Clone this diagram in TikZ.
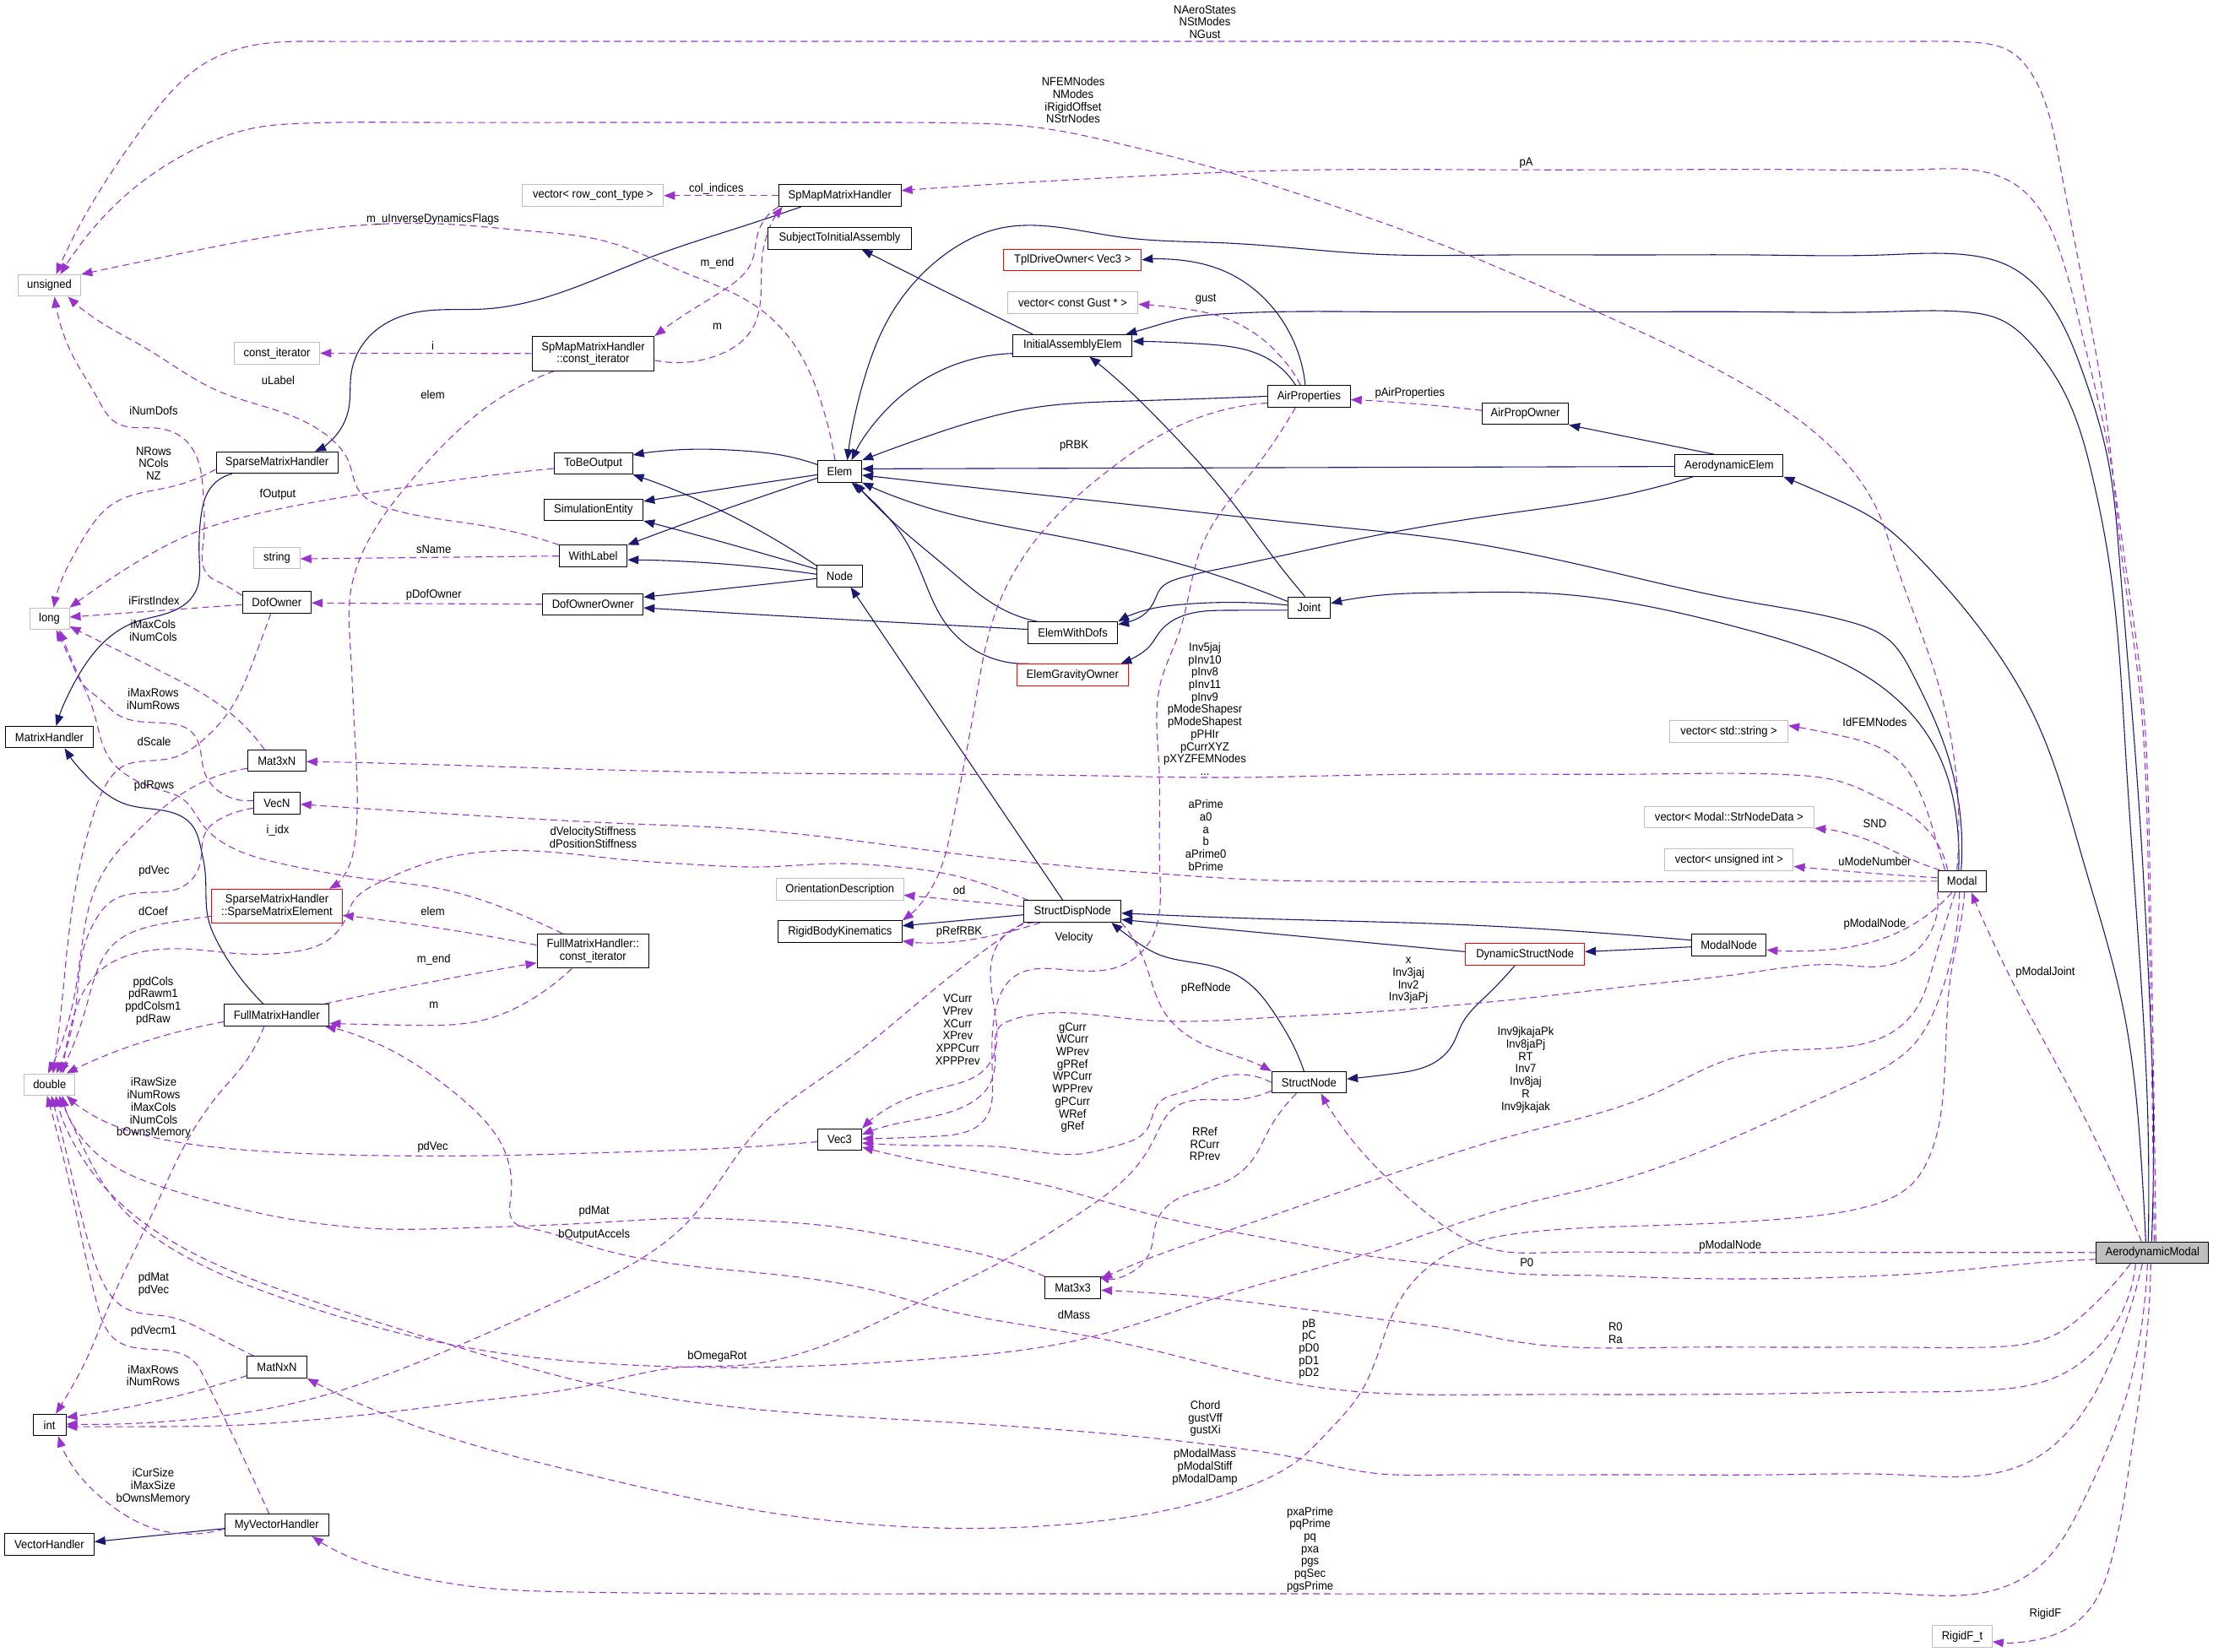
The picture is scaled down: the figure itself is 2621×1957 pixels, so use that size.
\documentclass[tikz,border=0pt]{standalone}
\usepackage{fontspec}
\setmainfont{Liberation Sans}[FakeStretch=0.93]
\usetikzlibrary{arrows.meta,hobby}
\definecolor{navyc}{HTML}{191970}
\definecolor{purpc}{HTML}{9A32CD}
\definecolor{grayc}{HTML}{BFBFBF}
\newcommand\doxfont{\fontsize{14}{14.7}\selectfont}
\pgfdeclarelayer{edgelayer}
\pgfsetlayers{edgelayer,main}
\tikzset{
  box/.style={draw=black, line width=1pt, fill=white, minimum height=25.5pt, inner xsep=2pt, inner ysep=1pt, font=\doxfont, align=center},
  gbox/.style={box, draw=grayc},
  rbox/.style={box, draw=red},
  lab/.style={font=\doxfont, align=center, inner sep=0pt},
  inh/.style={draw=navyc, line width=1.1pt, -{Triangle[length=13pt,width=10pt]}},
  use/.style={draw=purpc, line width=1.1pt, dash pattern=on 8pt off 5pt, -{Triangle[length=13pt,width=10pt]}},
}
\begin{document}
\begin{tikzpicture}[x=1pt,y=-1pt]
\useasboundingbox (0,0) rectangle (2621,1957);
% ---------- class nodes ----------
\node[gbox, minimum width=74.6] (uns) at (58.5,338.2) {unsigned};
\node[gbox, minimum width=167] (vrct) at (702.3,231.7) {vector< row\_cont\_type >};
\node[gbox, minimum width=101.6] (citer) at (328,418.4) {const\_iterator};
\node[box, minimum width=144.7, minimum height=40.4] (spci) at (702.5,418.8) {SpMapMatrixHandler\\::const\_iterator};
\node[box, minimum width=144] (smh) at (328,548) {SparseMatrixHandler};
\node[box, minimum width=93] (tbo) at (702.6,549) {ToBeOutput};
\node[box, minimum width=117.7] (se) at (702.9,603.8) {SimulationEntity};
\node[box, minimum width=80.3] (wl) at (702.6,658.7) {WithLabel};
\node[gbox, minimum width=54.5] (str) at (328,661) {string};
\node[box, minimum width=81.5] (dof) at (327.8,713.3) {DofOwner};
\node[box, minimum width=118.8] (doo) at (702.3,715.8) {DofOwnerOwner};
\node[gbox, minimum width=47] (long) at (58.5,733) {long};
\node[box, minimum width=103.3] (mh) at (58.5,873.2) {MatrixHandler};
\node[box, minimum width=68.9] (m3n) at (327.8,901.2) {Mat3xN};
\node[box, minimum width=54.5] (vecn) at (328,951.7) {VecN};
\node[rbox, minimum width=154.4, minimum height=40] (sme) at (328,1073.3) {SparseMatrixHandler\\::SparseMatrixElement};
\node[box, minimum width=132.6, minimum height=40.4] (fmci) at (702.3,1126.6) {FullMatrixHandler::\\const\_iterator};
\node[box, minimum width=124] (fmh) at (327.8,1202.4) {FullMatrixHandler};
\node[gbox, minimum width=60.3] (dbl) at (58.8,1284.8) {double};
\node[box, minimum width=70.6] (mnn) at (328,1619.7) {MatNxN};
\node[box, minimum width=39] (int) at (58.5,1688) {int};
\node[box, minimum width=123] (mvh) at (327.8,1806.7) {MyVectorHandler};
\node[box, minimum width=105.6] (vh) at (58.5,1829.4) {VectorHandler};
\node[box, minimum width=144.6] (spm) at (994.8,231.7) {SpMapMatrixHandler};
\node[box, minimum width=170.5] (stia) at (994.5,282.3) {SubjectToInitialAssembly};
\node[rbox, minimum width=163] (tdo) at (1270.3,307.8) {TplDriveOwner< Vec3 >};
\node[gbox, minimum width=154.4] (vgust) at (1270.6,358.4) {vector< const Gust * >};
\node[box, minimum width=141.2] (iae) at (1270.3,409.3) {InitialAssemblyElem};
\node[box, minimum width=97.6] (airp) at (1550.4,469.4) {AirProperties};
\node[box, minimum width=52.2] (elem) at (994.5,558.4) {Elem};
\node[box, minimum width=53.4] (node) at (994.5,682.3) {Node};
\node[box, minimum width=50.5] (joint) at (1550.4,719.8) {Joint};
\node[box, minimum width=106.2] (ewd) at (1270.6,749.5) {ElemWithDofs};
\node[rbox, minimum width=132] (ego) at (1270.3,799.4) {ElemGravityOwner};
\node[gbox, minimum width=150.4] (od) at (994.8,1053.4) {OrientationDescription};
\node[box, minimum width=114.8] (sdn) at (1270.3,1079.7) {StructDispNode};
\node[box, minimum width=147] (rbk) at (994.8,1103.7) {RigidBodyKinematics};
\node[box, minimum width=88.4] (sn) at (1550.4,1282.2) {StructNode};
\node[box, minimum width=52.2] (vec3) at (994.5,1350) {Vec3};
\node[box, minimum width=66] (m33) at (1270.6,1525.3) {Mat3x3};
\node[box, minimum width=102.2] (apo) at (1806.5,490.2) {AirPropOwner};
\node[box, minimum width=128] (aee) at (2047.9,551.6) {AerodynamicElem};
\node[gbox, minimum width=140] (vss) at (2047.6,866.5) {vector< std::string >};
\node[gbox, minimum width=201.5] (vsnd) at (2047.9,967.9) {vector< Modal::StrNodeData >};
\node[gbox, minimum width=152.1] (vui) at (2047.9,1018.4) {vector< unsigned int >};
\node[box, minimum width=57.4] (modal) at (2323.7,1043.9) {Modal};
\node[box, minimum width=88.4] (mnode) at (2047.6,1119.7) {ModalNode};
\node[rbox, minimum width=140.6] (dsn) at (1806.2,1130.4) {DynamicStructNode};
\node[box, fill=grayc, minimum width=133.2] (am) at (2549.3,1483.8) {AerodynamicModal};
\node[gbox, minimum width=70.6] (rft) at (2324,1938.7) {RigidF\_t};
% ---------- edge labels ----------
\node[lab] (l01) at (1427,26) {NAeroStates\\NStModes\\NGust};
\node[lab] (l02) at (1271,118.7) {NFEMNodes\\NModes\\iRigidOffset\\NStrNodes};
\node[lab] (l03) at (1807.5,193) {pA};
\node[lab] (l04) at (848.4,224) {col\_indices};
\node[lab] (l05) at (512.6,259.7) {m\_uInverseDynamicsFlags};
\node[lab] (l06) at (849.5,312.3) {m\_end};
\node[lab] (l07) at (849.5,386.4) {m};
\node[lab] (l08) at (1428.2,354.7) {gust};
\node[lab] (l09) at (512.6,409.5) {i};
\node[lab] (l10) at (329.5,450.4) {uLabel};
\node[lab] (l11) at (1669.8,466.2) {pAirProperties};
\node[lab] (l12) at (512.6,467.2) {elem};
\node[lab] (l13) at (182,486.2) {iNumDofs};
\node[lab] (l14) at (1272,528.5) {pRBK};
\node[lab] (l15) at (182,548.9) {NRows\\NCols\\NZ};
\node[lab] (l16) at (329,586.3) {fOutput};
\node[lab] (l17) at (513.7,650.4) {sName};
\node[lab] (l18) at (513.7,704.4) {pDofOwner};
\node[lab] (l19) at (182.5,711.6) {iFirstIndex};
\node[lab] (l20) at (181.5,746.8) {iMaxCols\\iNumCols};
\node[lab] (l21) at (1427,839.9) {Inv5jaj\\pInv10\\pInv8\\pInv11\\pInv9\\pModeShapesr\\pModeShapest\\pPHIr\\pCurrXYZ\\pXYZFEMNodes\\...};
\node[lab] (l22) at (181.5,828) {iMaxRows\\iNumRows};
\node[lab] (l23) at (2220.4,855.5) {IdFEMNodes};
\node[lab] (l24) at (182.5,878.7) {dScale};
\node[lab] (l25) at (182.5,931.3) {pdRows};
\node[lab] (l26) at (1428.2,989.4) {aPrime\\a0\\a\\b\\aPrime0\\bPrime};
\node[lab] (l27) at (2220.4,975.5) {SND};
\node[lab] (l28) at (329,983.5) {i\_idx};
\node[lab] (l29) at (702.6,991.9) {dVelocityStiffness\\dPositionStiffness};
\node[lab] (l30) at (2220.4,1020.5) {uModeNumber};
\node[lab] (l31) at (182.5,1032.3) {pdVec};
\node[lab] (l32) at (1136,1054.9) {od};
\node[lab] (l33) at (181.4,1079.4) {dCoef};
\node[lab] (l34) at (512.6,1079.4) {elem};
\node[lab] (l35) at (2220.4,1094.6) {pModalNode};
\node[lab] (l36) at (1136,1104.1) {pRefRBK};
\node[lab] (l37) at (1272,1111.3) {Velocity};
\node[lab] (l38) at (513.7,1136.7) {m\_end};
\node[lab] (l39) at (1668.1,1161.5) {x\\Inv3jaj\\Inv2\\Inv3jaPj};
\node[lab] (l40) at (2422.4,1152.3) {pModalJoint};
\node[lab] (l41) at (1428.2,1171) {pRefNode};
\node[lab] (l42) at (181.4,1185.5) {ppdCols\\pdRawm1\\ppdColsm1\\pdRaw};
\node[lab] (l43) at (513.7,1191) {m};
\node[lab] (l44) at (1134.3,1219.8) {VCurr\\VPrev\\XCurr\\XPrev\\XPPCurr\\XPPPrev};
\node[lab] (l45) at (1270.3,1276.5) {gCurr\\WCurr\\WPrev\\gPRef\\WPCurr\\WPPrev\\gPCurr\\WRef\\gRef};
\node[lab] (l46) at (1807,1267.3) {Inv9jkajaPk\\Inv8jaPj\\RT\\Inv7\\Inv8jaj\\R\\Inv9jkajak};
\node[lab] (l47) at (182,1312.7) {iRawSize\\iNumRows\\iMaxCols\\iNumCols\\bOwnsMemory};
\node[lab] (l48) at (1427,1355.2) {RRef\\RCurr\\RPrev};
\node[lab] (l49) at (512.6,1359.3) {pdVec};
\node[lab] (l50) at (703.7,1434.6) {pdMat};
\node[lab] (l51) at (703.7,1463.1) {bOutputAccels};
\node[lab] (l52) at (2049.3,1475.5) {pModalNode};
\node[lab] (l53) at (1808.2,1495.5) {P0};
\node[lab] (l54) at (182,1521.6) {pdMat\\pdVec};
\node[lab] (l55) at (1272,1557) {dMass};
\node[lab] (l56) at (1550.4,1598.2) {pB\\pC\\pD0\\pD1\\pD2};
\node[lab] (l57) at (1913.3,1579.5) {R0\\Ra};
\node[lab] (l58) at (182,1576.7) {pdVecm1};
\node[lab] (l59) at (849.5,1606.5) {bOmegaRot};
\node[lab] (l60) at (181.4,1629.5) {iMaxRows\\iNumRows};
\node[lab] (l61) at (1427.6,1680.6) {Chord\\gustVff\\gustXi};
\node[lab] (l62) at (1427,1738) {pModalMass\\pModalStiff\\pModalDamp};
\node[lab] (l63) at (181.4,1760.9) {iCurSize\\iMaxSize\\bOwnsMemory};
\node[lab] (l64) at (1551.6,1835.6) {pxaPrime\\pqPrime\\pq\\pxa\\pgs\\pqSec\\pgsPrime};
\node[lab] (l65) at (2422.4,1912.3) {RigidF};
\begin{pgfonlayer}{edgelayer}
% ---------- inheritance (solid) ----------
\draw[inh] ([xshift=-46]spm.south) to[curve through={(880,268) .. (775,303) .. (574,366) .. (488,371) .. (436,400) .. (416,442) .. (413,484) .. (396,518)}] ([xshift=45]smh.north);
\draw[inh] ([xshift=-53]smh.south) to[curve through={(248,580) .. (238,612) .. (236,660) .. (232,700) .. (207,723) .. (160,737) .. (127,757) .. (93,800)}] ([xshift=8]mh.north);
\draw[inh] ([xshift=-16]fmh.north) to[curve through={(275,1145) .. (257,1115) .. (247,1090) .. (243,1033) .. (238,1005) .. (227,977) .. (193,960) .. (150,953) .. (110,927)}] ([xshift=18]mh.south);
\draw[inh] ([yshift=-4]mvh.west) -- ([yshift=3]vh.east);
\draw[inh] ([yshift=8]elem.west) to[curve through={(930,540) .. (880,534) .. (800,533)}] ([yshift=10]tbo.east);
\draw[inh] ([yshift=-4]elem.west) to[curve through={(900,572.5)}] ([yshift=10]se.east);
\draw[inh] ([yshift=-8]elem.west) to[curve through={(900,589)}] (wl.north east);
\draw[inh] ([yshift=12]node.west) to[curve through={(880,618)}] (tbo.south east);
\draw[inh] ([yshift=8]node.west) to[curve through={(880,649)}] (se.south east);
\draw[inh] ([yshift=2]node.west) to[curve through={(880,670)}] ([yshift=-4.5]wl.east);
\draw[inh] ([yshift=-3]node.west) to[curve through={(880,695)}] ([yshift=8.5]doo.east);
\draw[inh] ([yshift=4]ewd.west) to[curve through={(880,727)}] ([yshift=-4.2]doo.east);
\draw[inh] ([xshift=-42]ewd.north) to[curve through={(1190,723) .. (1121,672) .. (1052,613)}] ([xshift=18]elem.south);
\draw[inh] ([yshift=7.4]joint.west) to[curve through={(1397,668) .. (1253,635) .. (1104,603)}] (elem.south east);
\draw[inh] ([xshift=-52]ego.north) to[curve through={(1121,740) .. (1092,681) .. (1069,635) .. (1041,601)}] ([xshift=14]elem.south);
\draw[inh] ([yshift=-9.4]iae.west) to[curve through={(1110,441) .. (1052,483)}] ([xshift=14]elem.north);
\draw[inh] ([xshift=-47]iae.north) to[curve through={(1121,346)}] ([xshift=26]stia.south);
\draw[inh] (airp.west) to[curve through={(1339,475) .. (1224,483) .. (1098,517)}] (elem.north east);
\draw[inh] ([xshift=-16]airp.north) to[curve through={(1500,424) .. (1425,407.5)}] ([yshift=5]iae.east);
\draw[inh] ([xshift=-4.5]airp.north) to[curve through={(1511,369) .. (1454,323) .. (1397,308)}] (tdo.east);
\draw[inh] ([xshift=-1]am.north) to[curve through={(2550,1300) .. (2546,1187) .. (2532,935) .. (2510,660) .. (2497,547) .. (2467,442) .. (2427,358) .. (2381,316) .. (2330,302) .. (2230,302) .. (2080,302) .. (1930,302) .. (1780,302) .. (1626,301) .. (1454,288) .. (1328,281) .. (1236,267.5) .. (1184,270.5) .. (1138,289) .. (1098,319) .. (1052,378) .. (1023.5,449)}] ([xshift=9]elem.north);
\draw[inh] ([xshift=-5]am.north) to[curve through={(2543,1300) .. (2535,1150) .. (2518,900) .. (2497,660) .. (2479,568) .. (2444,463) .. (2410,412.5) .. (2370,379) .. (2327,369.4) .. (2230,369.4) .. (2080,369.4) .. (1930,369.4) .. (1780,369.4) .. (1640,369.4) .. (1511,369.4) .. (1454,371.5) .. (1397,378) .. (1368,386)}] ([xshift=63]iae.north);
\draw[inh] ([xshift=-8]am.north) to[curve through={(2536,1375) .. (2530,1300) .. (2513,1187) .. (2467,1019) .. (2410,850) .. (2352,754) .. (2272,660) .. (2226,619) .. (2169,589)}] (aee.south east);
\draw[inh] ([xshift=-17]aee.north) -- (apo.south east);
\draw[inh] ([yshift=-1]aee.west) -- ([yshift=3]elem.east);
\draw[inh] ([xshift=-43]aee.south) to[curve through={(1910,589) .. (1780,609) .. (1626,635) .. (1454,672) .. (1397,685) .. (1374,698) .. (1368,710) .. (1356,727) .. (1339,736)}] ([yshift=10]ewd.east);
\draw[inh] ([yshift=3]joint.west) to[curve through={(1400,716) .. (1356,723)}] (ewd.north east);
\draw[inh] ([yshift=-3]joint.west) to[curve through={(1454,723) .. (1397,731) .. (1374,748) .. (1362,765) .. (1345,778)}] ([xshift=57]ego.north);
\draw[inh] ([xshift=-5]joint.north) to[curve through={(1511,664) .. (1454,588) .. (1379,504) .. (1328,454)}] ([xshift=20]iae.south);
\draw[inh] ([xshift=-1]modal.north) to[curve through={(2306,892) .. (2266,800) .. (2237,758) .. (2192,737) .. (2065,712) .. (1893,674) .. (1721,640) .. (1560,622) .. (1400,604.5) .. (1240,587)}] ([yshift=-4.5]elem.east);
\draw[inh] ([xshift=-4]modal.north) to[curve through={(2318,977) .. (2295,892) .. (2238,821) .. (2065,745) .. (1836,703) .. (1721,702) .. (1626,706)}] ([yshift=5]joint.east);
\draw[inh] ([yshift=6]mnode.west) to[curve through={(1893,1105) .. (1721,1095) .. (1590,1091) .. (1454,1087)}] ([yshift=-2]sdn.east);
\draw[inh] ([yshift=-2]mnode.west) -- ([yshift=3]dsn.east);
\draw[inh] ([yshift=3]dsn.west) -- ([yshift=-9.7]sdn.east);
\draw[inh] ([xshift=-12]dsn.south) to[curve through={(1760,1180) .. (1732,1212) .. (1720,1238) .. (1700,1258) .. (1650,1272)}] ([yshift=4]sn.east);
\draw[inh] ([xshift=-6]sn.north) to[curve through={(1530,1235) .. (1511,1203) .. (1485,1170) .. (1454,1150) .. (1400,1138) .. (1373,1131) .. (1345,1115)}] ([xshift=46]sdn.south);
\draw[inh] ([xshift=-11.5]sdn.north) -- ([xshift=13]node.south);
\draw[inh] ([yshift=-4]sdn.west) -- ([yshift=7]rbk.east);
% ---------- usage (dashed) ----------
\draw[use] ([xshift=2]am.north) to[curve through={(2549,1300) .. (2544,1019) .. (2533,808) .. (2513,660) .. (2496,505) .. (2467,337) .. (2438.5,189) .. (2421,118) .. (2404,84) .. (2381,61) .. (2335,50) .. (2270,49) .. (2150,49) .. (1900,49) .. (1500,49) .. (1100,49) .. (700,49) .. (500,49) .. (380,49) .. (310,52) .. (241,76) .. (172,147) .. (115,231) .. (80,295)}] ([xshift=8]uns.north);
\draw[use] ([xshift=-6]modal.north) to[curve through={(2295,808) .. (2243,660) .. (2226,610) .. (2169,530) .. (2065,455) .. (1893,370) .. (1721,295) .. (1592,248) .. (1452,203) .. (1325,170) .. (1220,150) .. (1150,146) .. (1050,145) .. (900,145) .. (700,145) .. (500,145) .. (400,145) .. (350,146.5) .. (310,150) .. (230,177) .. (143.5,236) .. (98,286)}] ([xshift=13]uns.north);
\draw[use] ([xshift=4]am.north) to[curve through={(2551,1300) .. (2546,1019) .. (2536,808) .. (2516,660) .. (2496,526) .. (2467,400) .. (2438.5,295) .. (2410,240) .. (2381,215) .. (2338,201.5) .. (2270,201) .. (2150,201) .. (1950,201) .. (1750,201) .. (1571,201) .. (1452,204) .. (1325,210) .. (1150,220)}] ([yshift=6]spm.east);
\draw[use] ([xshift=-5.5]elem.north) to[curve through={(972,475) .. (937,403) .. (900,366) .. (804,320) .. (718,286) .. (631,274) .. (517,265) .. (402,269) .. (287,286) .. (201,303)}] (uns.north east);
\draw[use] (wl.north west) to[curve through={(574,623) .. (459,602) .. (425,581) .. (413,547) .. (390,518) .. (344,492) .. (258,463) .. (172,412) .. (115,379)}] ([xshift=22]uns.south);
\draw[use] ([yshift=8]dof.west) to[curve through={(260,690) .. (247,682) .. (241,640) .. (241,589) .. (235,547) .. (218,520) .. (184,507) .. (138,501) .. (115,471) .. (86,421) .. (69,375)}] ([xshift=6]uns.south);
\draw[use] ([yshift=-8]smh.west) to[curve through={(201,577) .. (132,598) .. (103,631) .. (86,660) .. (70,695)}] ([xshift=5]long.north);
\draw[use] ([yshift=-6]tbo.west) to[curve through={(574,564) .. (430,585) .. (316,606) .. (230,631) .. (172,660) .. (110,700)}] (long.north east);
\draw[use] ([yshift=-3]dof.west) -- ([yshift=2]long.east);
\draw[use] ([xshift=-14.5]m3n.north) to[curve through={(267,840) .. (200,800) .. (133,767)}] ([yshift=-9]long.east);
\draw[use] ([yshift=3.4]vecn.west) to[curve through={(263,940) .. (243,917) .. (237,887) .. (227,867) .. (200,857) .. (167,855) .. (140,847) .. (117,827) .. (100,813) .. (87,790)}] ([xshift=8]long.south);
\draw[use] ([xshift=-36]fmci.north) to[curve through={(603,1078) .. (517,1052) .. (450,1043) .. (333,1023) .. (267,1000) .. (240,977) .. (217,947) .. (187,935) .. (153,920) .. (133,903) .. (120,877) .. (110,840) .. (93,800)}] ([xshift=12]long.south);
\draw[use] ([xshift=-7]dof.south) to[curve through={(300,783) .. (273,840) .. (240,877) .. (207,897) .. (167,902) .. (147,907) .. (127,927) .. (110,967) .. (93,1033) .. (80,1120) .. (72,1200)}] ([xshift=4]dbl.north);
\draw[use] ([yshift=-9]m3n.west) to[curve through={(233,930) .. (193,957) .. (160,987) .. (133,1017) .. (110,1060) .. (97,1120) .. (86,1190)}] ([xshift=-2]dbl.north);
\draw[use] ([yshift=-5.6]vecn.west) to[curve through={(267,967) .. (243,987) .. (237,1023) .. (217,1050) .. (180,1057) .. (150,1060) .. (133,1067) .. (113,1090) .. (100,1120) .. (90,1190)}] ([xshift=8]dbl.north);
\draw[use] ([yshift=-12]sme.west) to[curve through={(200,1093) .. (160,1103) .. (133,1120) .. (115,1150) .. (100,1200)}] ([xshift=12]dbl.north);
\draw[use] ([xshift=-52]sdn.north) to[curve through={(1201,1060) .. (1138,1039) .. (1052,1026) .. (995,1023) .. (900,1027) .. (820,1024) .. (746,1019) .. (631,1008) .. (517,1019) .. (448,1046) .. (417,1070) .. (410,1087) .. (383,1117) .. (344,1128) .. (287,1130) .. (218,1124) .. (166,1128) .. (115,1153) .. (86,1208)}] ([xshift=16]dbl.north);
\draw[use] ([yshift=-8]fmh.west) to[curve through={(172,1233.5) .. (115,1254.5)}] ([xshift=20]dbl.north);
\draw[use] ([xshift=-15]fmh.south) to[curve through={(287,1263) .. (264,1290) .. (218,1358) .. (184,1430) .. (149,1503) .. (126,1554) .. (103,1609) .. (80,1652)}] ([xshift=7.5]int.north);
\draw[use] ([yshift=-2.5]vec3.west) to[curve through={(880,1359) .. (730,1365) .. (574,1369) .. (459,1369) .. (287,1362) .. (172,1345) .. (115,1324)}] ([xshift=20]dbl.south);
\draw[use] (m33.north west) to[curve through={(1167,1487) .. (1100,1473) .. (995,1454) .. (880,1445) .. (832,1443) .. (730,1447) .. (631,1452) .. (540,1455) .. (459,1456) .. (316,1439) .. (201,1409) .. (115,1367)}] ([xshift=15]dbl.south);
\draw[use] (sdn.south west) to[curve through={(1110,1169) .. (995,1262) .. (900,1335) .. (815,1447) .. (689,1528) .. (517,1605) .. (373,1656) .. (230,1681)}] ([yshift=1]int.east);
\draw[use] ([yshift=-10]sn.west) to[curve through={(1457,1303) .. (1390,1313) .. (1368,1347) .. (1345,1383) .. (1279,1437) .. (1189,1493) .. (1100,1537) .. (1023,1574) .. (880,1617) .. (804,1620) .. (689,1643) .. (570,1659) .. (459,1673) .. (370,1682) .. (287,1688) .. (180,1690)}] ([yshift=-2]int.east);
\draw[use] ([xshift=-27]mnn.north) to[curve through={(247,1579) .. (201,1560) .. (149,1550) .. (115,1503) .. (86,1396)}] ([xshift=2]dbl.south);
\draw[use] ([xshift=-9]mvh.north) to[curve through={(241,1630) .. (230,1613) .. (218,1605) .. (172,1598) .. (138,1588) .. (115,1545) .. (86,1418)}] ([xshift=-3]dbl.south);
\draw[use] ([yshift=-4.3]mvh.west) to[curve through={(172,1807) .. (126,1779) .. (86,1737)}] ([xshift=10.5]int.south);
\draw[use] ([yshift=-10]mnn.west) to[curve through={(201,1656)}] ([yshift=9]int.east);
\draw[use] ([xshift=3]modal.south) to[curve through={(2321,1100) .. (2312,1145) .. (2301,1300) .. (2283,1375) .. (2266,1401) .. (2209,1430) .. (2123,1443) .. (1951,1452) .. (1807,1460) .. (1725,1480) .. (1658,1540) .. (1613,1647) .. (1569,1700) .. (1540,1728) .. (1483,1759) .. (1282,1804) .. (1110,1810) .. (900,1790) .. (689,1745) .. (517,1698)}] (mnn.south east);
\draw[use] ([xshift=-3]modal.south) to[curve through={(2295,1187) .. (2266,1238) .. (2220,1271) .. (2180,1290) .. (1893,1405) .. (1800,1427) .. (1636,1480) .. (1454,1533) .. (1279,1587) .. (1100,1610) .. (880,1620) .. (800,1619) .. (574,1600) .. (344,1541) .. (230,1494) .. (143,1430) .. (86,1333)}] ([xshift=11]dbl.south);
\draw[use] ([xshift=-12]am.south) to[curve through={(2505,1600) .. (2467,1673) .. (2410,1728) .. (2352,1747) .. (2250,1747) .. (2100,1747) .. (1950,1747) .. (1800,1747) .. (1721,1747) .. (1626,1745) .. (1540,1728) .. (1454,1714) .. (1339,1701) .. (1110,1684) .. (880,1668) .. (717,1643) .. (517,1588) .. (344,1532) .. (201,1469) .. (115,1396)}] ([xshift=7]dbl.south);
\draw[use] ([xshift=-6]am.south) to[curve through={(2535,1580) .. (2525,1630) .. (2467,1779) .. (2410,1860) .. (2341,1888) .. (2250,1888) .. (2100,1888) .. (1900,1888) .. (1700,1888) .. (1500,1888) .. (1300,1888) .. (1100,1888) .. (900,1888) .. (760,1887) .. (660,1885.5) .. (574,1881) .. (517,1873) .. (459,1860) .. (402,1839)}] ([xshift=42]mvh.south);
\draw[use] ([xshift=-2]am.south) to[curve through={(2542,1588) .. (2525,1715) .. (2502,1843) .. (2483,1894) .. (2461.5,1920) .. (2410,1943)}] ([yshift=-6]rft.east);
\draw[use] ([xshift=-20]am.south) to[curve through={(2490,1590) .. (2438,1630) .. (2352,1647) .. (2250,1649) .. (2100,1651) .. (1950,1652) .. (1800,1652) .. (1680,1652) .. (1591,1647) .. (1502,1633) .. (1368,1600) .. (1234,1573) .. (1100,1547) .. (1052,1533) .. (880,1506) .. (804,1498) .. (689,1473) .. (631,1456) .. (608,1447) .. (605,1418) .. (597,1362) .. (545,1300) .. (459,1242)}] ([xshift=57]fmh.south);
\draw[use] ([xshift=-26]am.south) to[curve through={(2470,1555) .. (2438,1579) .. (2352,1596) .. (2250,1596) .. (2120,1596) .. (1990,1596) .. (1864,1596) .. (1800,1590) .. (1721,1575) .. (1636,1563) .. (1457,1540) .. (1368,1532)}] ([yshift=-3]m33.east);
\draw[use] (am.west) to[curve through={(2400,1483.7) .. (2250,1483.7) .. (2100,1483.7) .. (1950,1483.7) .. (1840,1483.6) .. (1778,1482) .. (1740,1470) .. (1700,1445) .. (1658,1410) .. (1591,1337)}] ([xshift=14]sn.south);
\draw[use] ([yshift=-8]am.west) to[curve through={(2400,1497) .. (2295,1507) .. (2180,1513) .. (2065,1515) .. (1950,1513) .. (1893,1511) .. (1800,1509) .. (1720,1500) .. (1636,1490) .. (1502,1467) .. (1368,1440) .. (1234,1403) .. (1100,1377)}] ([yshift=-9]vec3.east);
\draw[use] ([xshift=-13]am.north) to[curve through={(2456,1299) .. (2381,1158)}] ([xshift=11]modal.south);
\draw[use] ([xshift=-12]modal.south) to[curve through={(2266,1095) .. (2209,1118) .. (2151.5,1126)}] ([yshift=-5.6]mnode.east);
\draw[use] (modal.south west) to[curve through={(2272,1124) .. (2238,1143) .. (2180,1143) .. (2060,1154) .. (1951,1166) .. (1830,1180) .. (1721,1191) .. (1620,1199) .. (1511,1205) .. (1350,1208) .. (1196,1209) .. (1184,1216) .. (1178.5,1241) .. (1173,1283) .. (1138,1312.5) .. (1052,1333.5)}] ([yshift=6]vec3.east);
\draw[use] ([xshift=-8]modal.south) to[curve through={(2289,1145) .. (2266,1200) .. (2065,1250) .. (1960,1295) .. (1800,1343) .. (1636,1395) .. (1457,1457) .. (1345,1497)}] ([yshift=-3]m33.north east);
\draw[use] ([xshift=-17]modal.north) to[curve through={(2266,968) .. (2238,952) .. (2180,926) .. (2123,918) .. (1950,917) .. (1780,917) .. (1620,918) .. (1454,921) .. (1300,919) .. (1100,917) .. (900,915.7) .. (650,910) .. (450,904)}] ([yshift=-1]m3n.east);
\draw[use] (modal.west) to[curve through={(2150,1044) .. (1960,1044.5) .. (1780,1045) .. (1640,1044) .. (1511,1043) .. (1374,1035) .. (1224,1022) .. (1052,1001) .. (880,982) .. (750,976) .. (631,970) .. (480,961)}] ([yshift=-1]vecn.east);
\draw[use] ([xshift=-20]modal.north) to[curve through={(2300,1019) .. (2272,935) .. (2249,901) .. (2180,871.5)}] ([yshift=7]vss.east);
\draw[use] ([xshift=-26]modal.north) to[curve through={(2266,1019) .. (2220,998)}] (vsnd.south east);
\draw[use] ([yshift=4]modal.west) to[curve through={(2238,1036)}] ([yshift=-8]vui.east);
\draw[use] ([xshift=-10]airp.north) to[curve through={(1511,416) .. (1454,378) .. (1397,365)}] ([yshift=-2]vgust.east);
\draw[use] ([yshift=4]apo.west) to[curve through={(1684,479)}] ([yshift=-4]airp.east);
\draw[use] ([yshift=-8]airp.west) to[curve through={(1397,504) .. (1310.5,559) .. (1224,643) .. (1178.5,727) .. (1155.5,830) .. (1127,980) .. (1110,1039)}] (rbk.north east);
\draw[use] ([xshift=-16]airp.south) to[curve through={(1483,559) .. (1425,643) .. (1397,748) .. (1374,811) .. (1372.5,904) .. (1373.6,1030) .. (1362,1115) .. (1328,1144) .. (1253,1148) .. (1201,1157) .. (1178.5,1199) .. (1175.6,1283) .. (1167,1325) .. (1110,1346)}] ([yshift=1]vec3.east);
\draw[use] ([xshift=-38]sdn.south) to[curve through={(1167,1110) .. (1110,1117)}] ([yshift=-11]rbk.east);
\draw[use] ([yshift=6]sdn.west) -- ([yshift=-7]od.east);
\draw[use] (sdn.south east) to[curve through={(1356,1140) .. (1379,1199) .. (1425,1237) .. (1483,1258)}] (sn.north west);
\draw[use] ([xshift=-46]sdn.south) to[curve through={(1184,1115) .. (1173,1157) .. (1167,1266) .. (1121,1287) .. (1052,1312.5)}] (vec3.north east);
\draw[use] (sn.west) to[curve through={(1442,1277) .. (1404,1293) .. (1372,1307) .. (1359,1337) .. (1323,1357) .. (1279,1367) .. (1198,1360) .. (1100,1357)}] ([yshift=-4]vec3.east);
\draw[use] ([xshift=-15]sn.south) to[curve through={(1502,1340) .. (1484,1373) .. (1457,1397) .. (1412.5,1413) .. (1381,1430) .. (1368,1453) .. (1363,1480) .. (1350,1500)}] ([xshift=-3]m33.north east);
\draw[use] (spm.west) -- (vrct.east);
\draw[use] (spm.south west) to[curve through={(898,275) .. (890,311) .. (861,341) .. (815,370)}] (spci.north east);
\draw[use] ([yshift=-8]spci.east) to[curve through={(849.5,421) .. (890,391) .. (900,362) .. (903,302)}] ([xshift=-68]spm.south);
\draw[use] (spci.west) -- (citer.east);
\draw[use] ([xshift=-46]spci.south) to[curve through={(574,484) .. (488,568) .. (430.5,652) .. (415,703) .. (415,767) .. (420,867) .. (423,933) .. (420,1000) .. (410,1033)}] ([xshift=62]sme.north);
\draw[use] (wl.west) -- ([yshift=-1]str.east);
\draw[use] (doo.west) -- ([yshift=-1]dof.east);
\draw[use] ([yshift=7]fmci.west) to[curve through={(517,1099)}] ([yshift=-11]sme.east);
\draw[use] ([xshift=57]fmh.north) to[curve through={(517,1162)}] ([yshift=-14]fmci.west);
\draw[use] ([xshift=-25]fmci.south) to[curve through={(631,1183) .. (574,1208) .. (488,1214.5)}] ([yshift=-10]fmh.east);
\end{pgfonlayer}
\end{tikzpicture}
\end{document}
